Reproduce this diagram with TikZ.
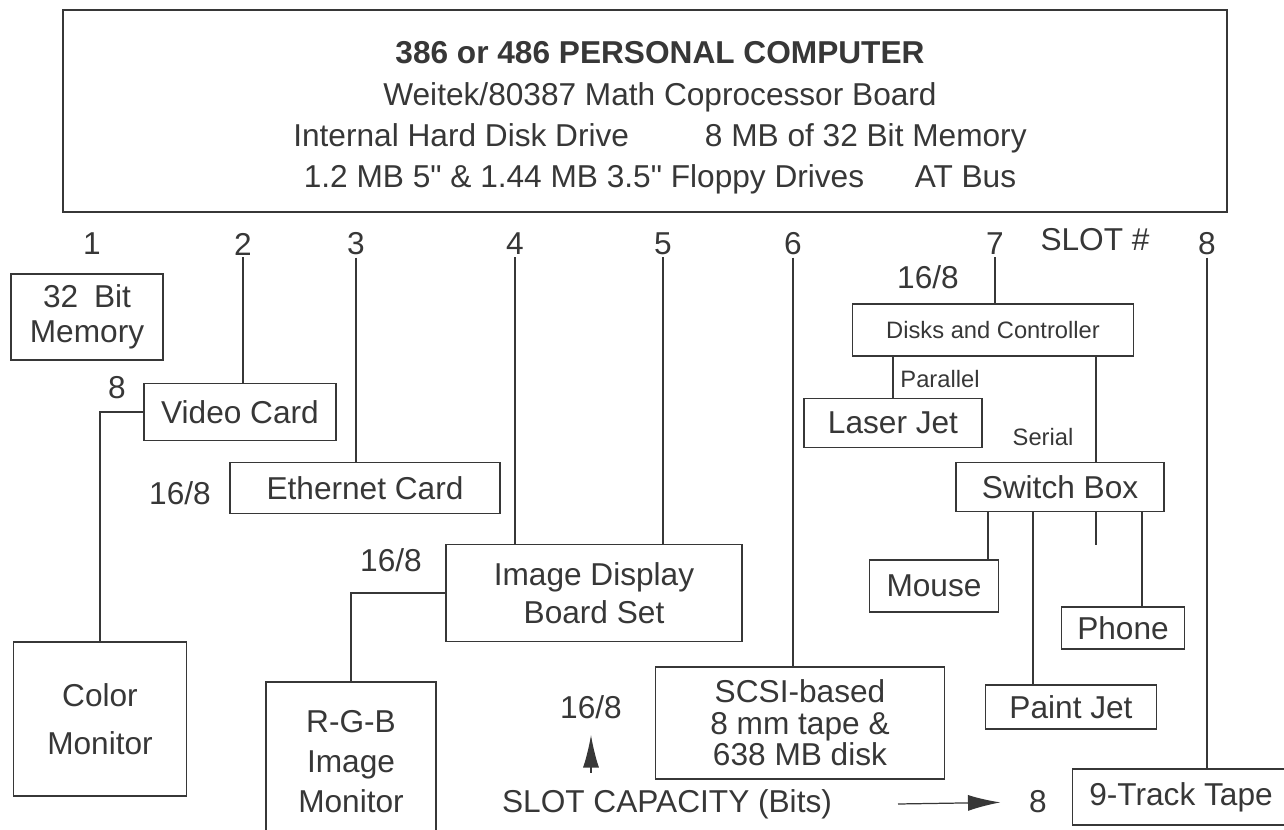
\documentclass[tikz,border=0pt]{standalone}
\usepackage{fontspec}
\setmainfont{Liberation Sans}
\usetikzlibrary{arrows.meta}
\definecolor{scanink}{RGB}{55,55,55}

\begin{document}
\begin{tikzpicture}[x=0.2mm,y=-0.2mm,line width=0.7pt,color=scanink,
  every node/.style={font=\fontsize{18}{22}\selectfont,inner sep=1pt},
  unit/.style={draw,align=center,inner sep=0pt,line width=0.9pt},
  dims/.style 2 args={minimum width=#1*0.2mm,minimum height=#2*0.2mm},
  small/.style={font=\fontsize{13.5}{16}\selectfont},
  capar/.style={-{Latex[length=6.5mm,width=3.2mm]}}]
  \path[use as bounding box,clip] (0,0) rectangle (1284,830);
  % the computer
  \node[unit,line width=1.6pt,dims={1164}{202}] (pc) at (645,111) {};
  \node[align=center,font=\fontsize{18}{23.6}\selectfont] (pctext) at (660,118)
    {\textbf{386 or 486 PERSONAL COMPUTER}\\
     Weitek/80387 Math Coprocessor Board\\
     Internal Hard Disk Drive\hspace{2.4em}8 MB of 32 Bit Memory\\
     1.2 MB 5\textquotedbl{} \& 1.44 MB 3.5\textquotedbl{} Floppy Drives\hspace{1.6em}AT Bus};
  % slot numbers
  \foreach \n/\x in {1/92,2/243,3/356,4/515,5/663,6/793,7/995,8/1207}
    \node (s\n) at (\x,244) {\n};
  \node (slot) at (1095,240) {SLOT \#};
  % boards and devices
  \node[unit,dims={152}{86},font=\fontsize{18}{20}\selectfont] (mem) at (87,317) {32\enspace Bit\\Memory};
  \node[unit,dims={192}{57}] (vid) at (240,412) {Video Card};
  \node[unit,dims={270}{51}] (eth) at (365,488) {Ethernet Card};
  \node[unit,dims={296}{97},font=\fontsize{18}{21.5}\selectfont] (img) at (594,593) {Image Display\\Board Set};
  \node[unit,dims={173}{154},font=\fontsize{18}{27}\selectfont] (col) at (100,719) {Color\\Monitor};
  \node[unit,dims={170}{160},font=\fontsize{18}{22.7}\selectfont] (rgb) at (351,762) {R-G-B\\Image\\Monitor};
  \node[unit,dims={289}{112},font=\fontsize{18}{18}\selectfont] (scsi) at (800,723) {SCSI-based\\8 mm tape \&\\638 MB disk};
  \node[unit,dims={281}{52},small] (dsk) at (993,330) {Disks and Controller};
  \node[unit,dims={178}{49}] (laser) at (893,423) {Laser Jet};
  \node[unit,dims={208}{49}] (sw) at (1060,487) {Switch Box};
  \node[unit,dims={129}{52}] (mouse) at (934,586) {Mouse};
  \node[unit,dims={123}{42}] (phone) at (1123,628) {Phone};
  \node[unit,dims={171}{44}] (paint) at (1071,707) {Paint Jet};
  \node[dims={216}{55}] (tape) at (1181,797) {9-Track Tape};
  \draw[line width=0.9pt] (tape.north east) -- (tape.north west) -- (tape.south west) -- (tape.south east);
  % slot lines
  \foreach \n/\b in {2/vid,3/eth,4/img,5/img,6/scsi,7/dsk,8/tape}
    \draw (s\n.south) -- (s\n.south |- \b.north);
  \draw (vid.west) -| (col.north);
  \draw (img.west) -| (rgb.north);
  \draw (dsk.south -| laser.north) -- (laser.north);
  \coordinate (serstub) at (1096,545);
  \coordinate (mousedrop) at (988,0);
  \coordinate (paintdrop) at (1033,0);
  \coordinate (phonedrop) at (1142,0);
  \draw (dsk.south -| serstub) -- (sw.north -| serstub);
  \draw (sw.south -| serstub) -- (serstub);
  \draw (sw.south -| mousedrop) -- (mouse.north -| mousedrop);
  \draw (sw.south -| paintdrop) -- (paint.north -| paintdrop);
  \draw (sw.south -| phonedrop) -- (phone.north -| phonedrop);
  % capacities
  \node (capvid) at (117,388) {8};
  \node (capeth) at (180,493) {16/8};
  \node (capimg) at (391,560) {16/8};
  \node (capdsk) at (928,277) {16/8};
  \node[small] (par) at (940,379) {Parallel};
  \node[small] (ser) at (1043,437) {Serial};
  % legend
  \node (capup) at (591,707) {16/8};
  \node (caplbl) at (667,804) {SLOT CAPACITY (Bits)};
  \node (cap8) at (1038,802) {8};
  \coordinate (uptail) at (591,773);
  \coordinate (rtail) at (898,804);
  \draw[capar,shorten >=8pt] (uptail) -- (capup.south);
  \draw[capar,shorten >=15pt] (rtail) -- (cap8.west);
\end{tikzpicture}
\end{document}
